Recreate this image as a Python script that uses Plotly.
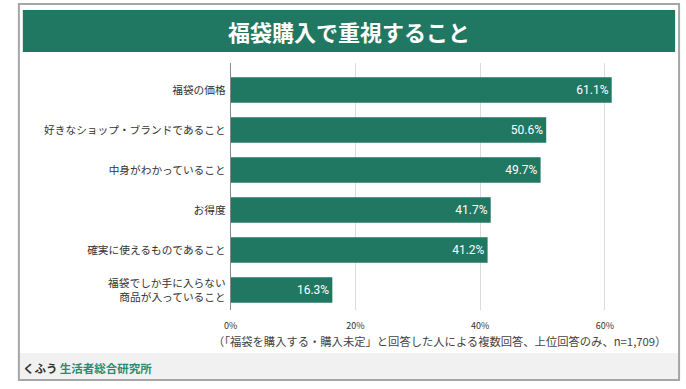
import plotly.graph_objects as go

W, H = 686, 389

title = "福袋購入で重視すること"
categories = [
    "福袋の価格",
    "好きなショップ・ブランドであること",
    "中身がわかっていること",
    "お得度",
    "確実に使えるものであること",
    "福袋でしか手に入らない<br>商品が入っていること",
]
values = [61.1, 50.6, 49.7, 41.7, 41.2, 16.3]
x_ticks = [0, 20, 40, 60]
x_tick_labels = ["0%", "20%", "40%", "60%"]
note = "（「福袋を購入する・購入未定」と回答した人による複数回答、上位回答のみ、n=1,709）"
brand_dark = "くふう"
brand_green = "生活者総合研究所"

GREEN = "#217862"
FONT = "Noto Sans CJK JP"

def px(x):
    return x / W

def py(y):
    return 1 - y / H

fig = go.Figure(
    go.Bar(
        y=categories,
        x=values,
        orientation="h",
        marker=dict(color=GREEN, line=dict(width=0)),
        width=0.64,
        text=[f"{v:.1f}%" for v in values],
        textposition="inside",
        insidetextanchor="end",
        textfont=dict(color="white", size=12, family="Roboto"),
        cliponaxis=False,
    )
)

fig.update_layout(
    width=W,
    height=H,
    margin=dict(l=0, r=0, t=0, b=0),
    paper_bgcolor="white",
    plot_bgcolor="white",
    showlegend=False,
    font=dict(family=FONT, color="#333"),
    xaxis=dict(
        domain=[px(226), px(667)],
        range=[0, 70],
        tickvals=x_ticks,
        ticktext=x_tick_labels,
        tickfont=dict(size=9, color="#333"),
        showgrid=True,
        gridcolor="#dcdcdc",
        gridwidth=1,
        zeroline=True,
        zerolinecolor="#8c8c8c",
        zerolinewidth=1,
        showline=False,
        ticks="",
        ticklabelstandoff=9,
        fixedrange=True,
    ),
    yaxis=dict(
        domain=[py(310), py(63)],
        range=[5.5, -0.675],
        autorange=False,
        type="category",
        tickfont=dict(size=10.7, color="#333"),
        showgrid=False,
        zeroline=False,
        showline=False,
        ticks="",
        ticklabelstandoff=4,
        fixedrange=True,
    ),
    shapes=[
        dict(type="rect", xref="paper", yref="paper",
             x0=px(12), x1=px(679), y0=py(353), y1=py(380),
             fillcolor="#f1f1f1", line=dict(width=0), layer="below"),
        dict(type="rect", xref="paper", yref="paper",
             x0=px(12), x1=px(679), y0=py(380), y1=py(4),
             fillcolor="rgba(0,0,0,0)", line=dict(color="#a6a6a6", width=2)),
        dict(type="rect", xref="paper", yref="paper",
             x0=px(16), x1=px(675), y0=py(52), y1=py(10),
             fillcolor=GREEN, line=dict(width=0)),
    ],
    annotations=[
        dict(text=f"<b>{title}</b>", xref="paper", yref="paper",
             x=px(345.5), y=py(31), xanchor="center", yanchor="middle",
             showarrow=False, font=dict(size=22, color="white", family=FONT)),
        dict(text=note, xref="paper", yref="paper",
             x=px(668), y=py(341), xanchor="right", yanchor="middle",
             showarrow=False, font=dict(size=11.3, color="#444", family=FONT)),
        dict(text=f"<b>{brand_dark}</b>\u2009<b><span style='color:#2b8a70'>{brand_green}</span></b>",
             xref="paper", yref="paper",
             x=px(14), y=py(368), xanchor="left", yanchor="middle",
             showarrow=False, font=dict(size=11.5, color="#333", family=FONT)),
    ],
)

fig.write_html(
    "out.html",
    config={"displayModeBar": False},
    post_script="document.body.style.margin='0';document.body.style.overflow='hidden';",
)
